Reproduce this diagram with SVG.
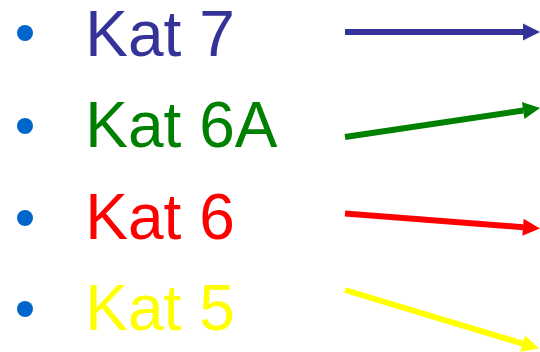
<svg xmlns="http://www.w3.org/2000/svg" width="540" height="352" viewBox="0 0 540 352">
  <style>
    .bullet { fill: #0066CC; }
    .label { font-family: "Liberation Sans", Arial, sans-serif; font-size: 64px; }
    .arrow { stroke-width: 6; fill: none; stroke-linecap: butt; }
  </style>
  <defs>
    <marker id="head-blue" markerUnits="userSpaceOnUse" markerWidth="18" markerHeight="18" refX="0" refY="8.5" orient="auto" overflow="visible">
      <path d="M0,0 L17,8.5 L0,17 Z" fill="#333399"/>
    </marker>
    <marker id="head-green" markerUnits="userSpaceOnUse" markerWidth="18" markerHeight="18" refX="0" refY="8.5" orient="auto" overflow="visible">
      <path d="M0,0 L17,8.5 L0,17 Z" fill="#008000"/>
    </marker>
    <marker id="head-red" markerUnits="userSpaceOnUse" markerWidth="18" markerHeight="18" refX="0" refY="8.5" orient="auto" overflow="visible">
      <path d="M0,0 L17,8.5 L0,17 Z" fill="#FF0000"/>
    </marker>
    <marker id="head-yellow" markerUnits="userSpaceOnUse" markerWidth="18" markerHeight="18" refX="0" refY="8.5" orient="auto" overflow="visible">
      <path d="M0,0 L17,8.5 L0,17 Z" fill="#FFFF00"/>
    </marker>
  </defs>

  <g id="kat7">
    <circle class="bullet" cx="25" cy="33" r="8"/>
    <text class="label" x="85.3" y="56" fill="#333399">Kat 7</text>
  </g>
  <g id="kat6a">
    <circle class="bullet" cx="25" cy="126" r="8"/>
    <text class="label" x="85.3" y="147" fill="#008000">Kat 6A</text>
  </g>
  <g id="kat6">
    <circle class="bullet" cx="25" cy="218" r="8"/>
    <text class="label" x="85.3" y="238.5" fill="#FF0000">Kat 6</text>
  </g>
  <g id="kat5">
    <circle class="bullet" cx="25" cy="309" r="8"/>
    <text class="label" x="85.3" y="330" fill="#FFFF00">Kat 5</text>
  </g>

  <g id="connectors">
    <line class="arrow" x1="345" y1="32" x2="523" y2="32" stroke="#333399" marker-end="url(#head-blue)"/>
    <line class="arrow" x1="345" y1="137" x2="523.2" y2="110.5" stroke="#008000" marker-end="url(#head-green)"/>
    <line class="arrow" x1="345" y1="213.5" x2="523" y2="227.2" stroke="#FF0000" marker-end="url(#head-red)"/>
    <line class="arrow" x1="345" y1="290" x2="522.7" y2="343.6" stroke="#FFFF00" marker-end="url(#head-yellow)"/>
  </g>
</svg>
